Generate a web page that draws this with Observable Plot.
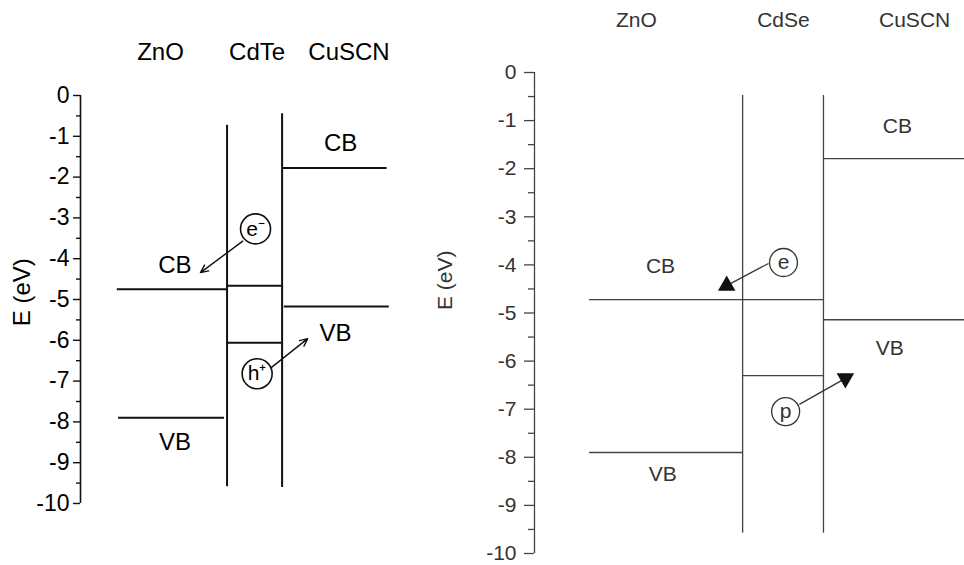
<!DOCTYPE html>
<html><head><meta charset="utf-8">
<script src="https://cdn.jsdelivr.net/npm/d3@7"></script>
<script src="https://cdn.jsdelivr.net/npm/@observablehq/plot@0.6"></script>
<style>
html,body{margin:0;padding:0;background:#fff;overflow:hidden}
#wrap{display:flex;width:964px;height:565px}
#wrap svg{display:block;flex:none}
</style></head><body><div id="wrap"></div>
<script>
// ---------- shared energy axis ----------
const yTicks = [0, -1, -2, -3, -4, -5, -6, -7, -8, -9, -10];
const yTickLabels = ["0", "-1", "-2", "-3", "-4", "-5", "-6", "-7", "-8", "-9", "-10"];
const yMinorTicks = [-0.5, -1.5, -2.5, -3.5, -4.5, -5.5, -6.5, -7.5, -8.5, -9.5];
const axisTitle = "E (eV)";

// ---------- left panel: ZnO / CdTe / CuSCN ----------
const leftLayers = ["ZnO", "CdTe", "CuSCN"];
const leftLayerLabelX = [2.5, 5.52, 8.39];
const leftLayerLabelY = 1.06;
const leftCB = [-4.75, -4.66, -1.78];
const leftVB = [-7.90, -6.06, -5.17];
const leftCBx1 = [1.15, 4.58, 6.33];
const leftCBx2 = [4.58, 6.30, 9.58];
const leftVBx1 = [1.19, 4.58, 6.37];
const leftVBx2 = [4.50, 6.30, 9.65];
const leftInterfaceX = [4.58, 6.30];
const leftInterfaceTop = [-0.73, -0.45];
const leftInterfaceBottom = [-9.59, -9.61];
const leftBandLabels = ["CB", "VB", "CB", "VB"];
const leftBandLabelX = [2.95, 2.95, 8.13, 7.97];
const leftBandLabelY = [-4.16, -8.49, -1.18, -5.84];
const leftCarriers = ["e\u207B", "h\u207A"];
const leftCarrierX = [5.47, 5.52];
const leftCarrierY = [-3.27, -6.82];
const leftArrowX1 = [5.07, 5.96];
const leftArrowY1 = [-3.57, -6.67];
const leftArrowX2 = [3.75, 7.10];
const leftArrowY2 = [-4.34, -5.96];
const leftTitleX = -1.82, leftTitleY = -4.82;

// ---------- right panel: ZnO / CdSe / CuSCN ----------
const rightLayers = ["ZnO", "CdSe", "CuSCN"];
const rightLayerLabelX = [2.37, 5.79, 8.84];
const rightLayerLabelY = 1.08;
const rightCB = [-4.72, -4.72, -1.79];
const rightVB = [-7.90, -6.30, -5.14];
const rightX1 = [1.28, 4.84, 6.72];
const rightX2 = [4.84, 6.72, 10];
const rightInterfaceX = [4.84, 6.72];
const rightInterfaceTop = [-0.48, -0.48];
const rightInterfaceBottom = [-9.58, -9.58];
const rightBandLabels = ["CB", "VB", "CB", "VB"];
const rightBandLabelX = [2.93, 2.98, 8.44, 8.26];
const rightBandLabelY = [-4.03, -8.36, -1.12, -5.74];
const rightCarriers = ["e", "p"];
const rightCarrierX = [5.79, 5.84];
const rightCarrierY = [-3.95, -7.05];
const rightArrowX1 = [5.44, 6.16];
const rightArrowY1 = [-3.97, -6.90];
const rightArrowX2 = [4.47, 7.23];
const rightArrowY2 = [-4.43, -6.36];
const rightHeadRotate = [0, 180];
const rightTitleX = -2.07, rightTitleY = -4.32;

function levels(cb, vb, x1cb, x2cb, x1vb, x2vb) {
  return cb.map((e, i) => ({E: e, x1: x1cb[i], x2: x2cb[i]}))
    .concat(vb.map((e, i) => ({E: e, x1: x1vb[i], x2: x2vb[i]})));
}
const zip = (...cols) => cols[0].map((_, i) => cols.map(c => c[i]));

// ----- left -----
const Lfont = 24;
const leftLevels = levels(leftCB, leftVB, leftCBx1, leftCBx2, leftVBx1, leftVBx2);
const leftIf = zip(leftInterfaceX, leftInterfaceTop, leftInterfaceBottom).map(([x, t, b]) => ({x, t, b}));
const leftBL = zip(leftBandLabels, leftBandLabelX, leftBandLabelY).map(([s, x, y]) => ({s, x, y}));
const leftCar = zip(leftCarriers, leftCarrierX, leftCarrierY).map(([s, x, y]) => ({s, x, y}));
const leftArr = zip(leftArrowX1, leftArrowY1, leftArrowX2, leftArrowY2).map(([x1, y1, x2, y2]) => ({x1, y1, x2, y2}));
const leftLay = zip(leftLayers, leftLayerLabelX).map(([s, x]) => ({s, x, y: leftLayerLabelY}));

const left = Plot.plot({
  width: 420, height: 565,
  marginLeft: 80, marginRight: 20, marginTop: 95, marginBottom: 62,
  x: {domain: [0, 10], axis: null},
  y: {domain: [-10, 0]},
  style: {fontFamily: "'Liberation Sans', Arial, sans-serif", color: "#000", background: "#fff"},
  marks: [
    Plot.ruleX([0], {y1: -10, y2: 0, strokeWidth: 1.6, stroke: "#111"}),
    Plot.axisY({ticks: yTicks, tickFormat: d => yTickLabels[yTicks.indexOf(d)], tickSize: 7, tickPadding: 4, fontSize: 23, label: null, stroke: "#111", strokeWidth: 1.4, fill: "#000"}),
    Plot.axisY({ticks: yMinorTicks, tickFormat: () => "", tickSize: 4, label: null, stroke: "#111", strokeWidth: 1.4}),
    Plot.ruleX(leftIf, {x: "x", y1: "t", y2: "b", stroke: "#111", strokeWidth: 2}),
    Plot.ruleY(leftLevels, {y: "E", x1: "x1", x2: "x2", stroke: "#111", strokeWidth: 2}),
    Plot.arrow(leftArr, {x1: "x1", y1: "y1", x2: "x2", y2: "y2", stroke: "#111", strokeWidth: 1.4, headLength: 9, headAngle: 50}),
    Plot.dot(leftCar, {x: "x", y: "y", r: 15, fill: "#fff", stroke: "#111", strokeWidth: 1.6}),
    Plot.text(leftCar, {x: "x", y: "y", text: "s", fontSize: 21, fill: "#000"}),
    Plot.text(leftBL, {x: "x", y: "y", text: "s", fontSize: Lfont, fill: "#000"}),
    Plot.text(leftLay, {x: "x", y: "y", text: "s", fontSize: Lfont, fill: "#000"}),
    Plot.text([axisTitle], {x: leftTitleX, y: leftTitleY, text: d => d, rotate: -90, fontSize: Lfont, fill: "#000"})
  ]
});

// ----- right -----
const Rfont = 21;
const rightLevels = levels(rightCB, rightVB, rightX1, rightX2, rightX1, rightX2);
const rightIf = zip(rightInterfaceX, rightInterfaceTop, rightInterfaceBottom).map(([x, t, b]) => ({x, t, b}));
const rightBL = zip(rightBandLabels, rightBandLabelX, rightBandLabelY).map(([s, x, y]) => ({s, x, y}));
const rightCar = zip(rightCarriers, rightCarrierX, rightCarrierY).map(([s, x, y]) => ({s, x, y}));
const rightArr = zip(rightArrowX1, rightArrowY1, rightArrowX2, rightArrowY2, rightHeadRotate).map(([x1, y1, x2, y2, r]) => ({x1, y1, x2, y2, r}));
const rightLay = zip(rightLayers, rightLayerLabelX).map(([s, x]) => ({s, x, y: rightLayerLabelY}));

const right = Plot.plot({
  width: 544, height: 565,
  marginLeft: 114, marginRight: 0, marginTop: 72, marginBottom: 12,
  x: {domain: [0, 10], axis: null},
  y: {domain: [-10, 0]},
  style: {fontFamily: "'Liberation Sans', Arial, sans-serif", color: "#333", background: "#fff"},
  marks: [
    Plot.ruleX([0], {y1: -10, y2: 0, strokeWidth: 1.3, stroke: "#444"}),
    Plot.axisY({ticks: yTicks, tickFormat: d => yTickLabels[yTicks.indexOf(d)], tickSize: 10, tickPadding: 8, fontSize: 21, label: null, stroke: "#444", strokeWidth: 1.3, fill: "#333"}),
    Plot.axisY({ticks: yMinorTicks, tickFormat: () => "", tickSize: 6, label: null, stroke: "#444", strokeWidth: 1.3}),
    Plot.ruleX(rightIf, {x: "x", y1: "t", y2: "b", stroke: "#444", strokeWidth: 1.3}),
    Plot.ruleY(rightLevels, {y: "E", x1: "x1", x2: "x2", stroke: "#444", strokeWidth: 1.3}),
    Plot.link(rightArr, {x1: "x1", y1: "y1", x2: "x2", y2: "y2", stroke: "#333", strokeWidth: 1.3}),
    Plot.dot(rightArr, {x: "x2", y: "y2", symbol: "triangle", r: 6.5, fill: "#111", stroke: "none", rotate: "r"}),
    Plot.dot(rightCar, {x: "x", y: "y", r: 14, fill: "#fff", stroke: "#333", strokeWidth: 1.3}),
    Plot.text(rightCar, {x: "x", y: "y", text: "s", fontSize: Rfont, fill: "#333"}),
    Plot.text(rightBL, {x: "x", y: "y", text: "s", fontSize: Rfont, fill: "#333"}),
    Plot.text(rightLay, {x: "x", y: "y", text: "s", fontSize: Rfont, fill: "#333"}),
    Plot.text([axisTitle], {x: rightTitleX, y: rightTitleY, text: d => d, rotate: -90, fontSize: Rfont, fill: "#333"})
  ]
});

const wrap = document.getElementById("wrap");
wrap.appendChild(left);
wrap.appendChild(right);
</script></body></html>
